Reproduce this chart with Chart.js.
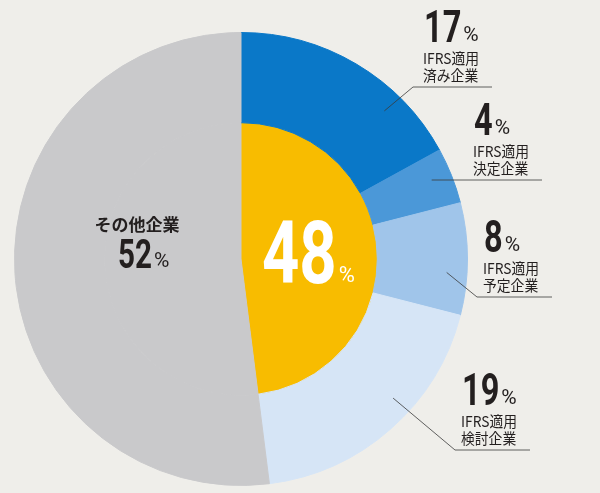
<!DOCTYPE html>
<html>
<head>
<meta charset="utf-8">
<script src="https://cdn.jsdelivr.net/npm/chart.js@4/dist/chart.umd.min.js"></script>
<style>
  html, body { margin: 0; padding: 0; background: #efeeea; }
  #wrap { width: 600px; height: 493px; }
</style>
</head>
<body>
<div id="wrap"><canvas id="chart" width="600" height="493"></canvas></div>
<script>
// outer ring: breakdown of companies
var segNames = ['IFRS適用\n済み企業', 'IFRS適用\n決定企業', 'IFRS適用\n予定企業', 'IFRS適用\n検討企業', 'その他企業'];
var segValues = [17, 4, 8, 19, 52];
var segColors = ['#0a78c8', '#4b98d8', '#a0c5ea', '#d6e5f6', '#c9c9cb'];

// inner half: total of IFRS related companies
var innerValues = [48, 52];
var innerColors = ['#f8bc00', '#c9c9cb'];

// where each callout label sits (layout only)
var callouts = [
  { x: 424, y: 42,  elbowX: 413, frac: 0.72 },
  { x: 474, y: 135, elbowX: null, frac: 0.45 },
  { x: 484, y: 252, elbowX: 477, frac: 0.63 },
  { x: 462, y: 405, elbowX: 455, frac: 0.41 }
];

var textColor = '#231f1f';
var numFont = 'Roboto, "DejaVu Sans", sans-serif';
var jpFont = '"Noto Sans CJK JP", sans-serif';

// condensed look: squeeze the digits sideways
function drawNum(ctx, x, y, num, size, pctSize, color) {
  var sx = 0.74;
  ctx.fillStyle = color;
  ctx.textAlign = 'left';
  ctx.textBaseline = 'alphabetic';
  ctx.font = 'bold ' + size + 'px ' + numFont;
  var w = ctx.measureText(num).width * sx;
  ctx.save();
  ctx.translate(x, y);
  ctx.scale(sx, 1);
  ctx.fillText(num, 0, 0);
  ctx.restore();
  ctx.font = pctSize + 'px ' + numFont;
  ctx.fillText('%', x + w + 2, y - 1);
}

var labelPlugin = {
  id: 'labels',
  afterDraw: function(chart) {
    var ctx = chart.ctx;
    var arcs = chart.getDatasetMeta(0).data;
    var cx = arcs[0].x, cy = arcs[0].y;
    ctx.save();

    // callouts for the blue segments
    for (var i = 0; i < callouts.length; i++) {
      var c = callouts[i];
      var a = arcs[i];
      var ang = a.startAngle + (a.endAngle - a.startAngle) * c.frac;
      var r = a.outerRadius * 0.91;
      var px = cx + Math.cos(ang) * r;
      var py = cy + Math.sin(ang) * r;
      var uy = c.y + 45;

      ctx.strokeStyle = '#3a3a3a';
      ctx.lineWidth = 0.8;
      ctx.beginPath();
      if (c.elbowX === null) {
        ctx.moveTo(px, uy);
      } else {
        ctx.moveTo(px, py);
        ctx.lineTo(c.elbowX, uy);
      }
      ctx.lineTo(c.x + 68, uy);
      ctx.stroke();

      drawNum(ctx, c.x, c.y, String(segValues[i]), 44, 21, textColor);

      var lines = segNames[i].split('\n');
      ctx.font = '15px ' + jpFont;
      ctx.textAlign = 'left';
      ctx.textBaseline = 'middle';
      ctx.fillStyle = textColor;
      ctx.save();
      ctx.translate(c.x - 1, 0);
      ctx.scale(0.92, 1);
      ctx.fillText(lines[0], 0, c.y + 16);
      ctx.fillText(lines[1], 0, c.y + 33);
      ctx.restore();
    }

    // other companies, inside grey
    ctx.font = 'bold 17px ' + jpFont;
    ctx.textAlign = 'center';
    ctx.textBaseline = 'middle';
    ctx.fillStyle = textColor;
    ctx.fillText(segNames[4], cx - 104, cy - 34);
    drawNum(ctx, cx - 123, cy + 9, String(segValues[4]), 40, 21, textColor);

    // big total on the yellow half
    drawNum(ctx, cx + 21, cy + 24, String(innerValues[0]), 88, 22, '#ffffff');

    ctx.restore();
  }
};

new Chart(document.getElementById('chart'), {
  type: 'pie',
  data: {
    labels: segNames,
    datasets: [
      {
        data: segValues,
        backgroundColor: segColors,
        borderColor: segColors,
        borderWidth: 1,
        weight: 90
      },
      {
        data: innerValues,
        backgroundColor: innerColors,
        borderColor: innerColors,
        borderWidth: 1,
        weight: 136
      }
    ]
  },
  options: {
    responsive: false,
    animation: false,
    layout: { padding: { left: 14, right: 132, top: 32, bottom: 7 } },
    plugins: {
      legend: { display: false },
      tooltip: { enabled: false }
    }
  },
  plugins: [labelPlugin]
});
</script>
</body>
</html>
